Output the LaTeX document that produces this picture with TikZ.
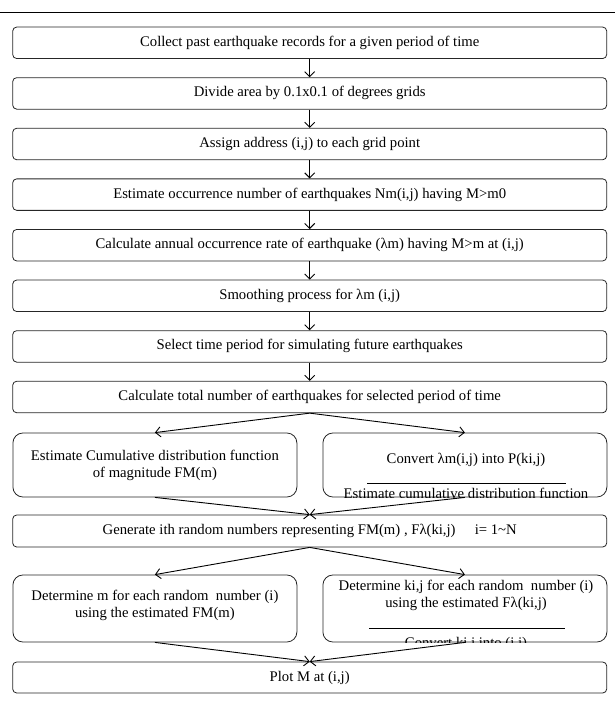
\documentclass[tikz,border=0pt]{standalone}
\usepackage{fontspec}
\setmainfont{Liberation Serif}
\usetikzlibrary{arrows.meta}
\tikzstyle{stepbox} = [draw=black!85, line width=0.8pt, rectangle, rounded corners=4pt, minimum width=594pt, minimum height=31.5pt, inner sep=0pt]
\tikzstyle{halfbox} = [draw=black!85, line width=0.8pt, rectangle, rounded corners=10pt, minimum width=284pt, inner sep=0pt]
\tikzstyle{boxtext} = [align=center, inner sep=0pt]
\tikzstyle{flowarrow} = [-{Straight Barb[length=5pt,width=10pt]}, line width=0.9pt]

\begin{document}
\begin{tikzpicture}[x=1pt, y=-1pt, font=\fontsize{14.7}{17}\selectfont]
\useasboundingbox (0,0) rectangle (615,726);
\draw[line width=0.9pt] (0,12) -- (615,12);

% steps down the middle
\node[stepbox] (collect) at (309.7,42.8) {Collect past earthquake records for a given period of time};
\node[stepbox] (divide) at (309.7,93.4) {Divide area by 0.1x0.1 of degrees grids};
\node[stepbox] (assign) at (309.7,144) {Assign address (i,j) to each grid point};
\node[stepbox] (count) at (309.7,194.6) {Estimate occurrence number of earthquakes Nm(i,j) having M>m0};
\node[stepbox] (rate) at (309.7,245.2) {Calculate annual occurrence rate of earthquake (λm) having M>m at (i,j)};
\node[stepbox] (smooth) at (309.7,295.8) {Smoothing process for λm (i,j)};
\node[stepbox] (period) at (309.7,346.4) {Select time period for simulating future earthquakes};
\node[stepbox] (total) at (309.7,397) {Calculate total number of earthquakes for selected period of time};

% first pair
\node[halfbox, minimum height=64pt] (cdf) at (154.9,465) {};
\node[boxtext] (cdftext) at (cdf.center) {Estimate Cumulative distribution function\\of magnitude FM(m)};
\node[halfbox, minimum height=64pt] (convert) at (464.9,465) {};
\begin{scope}
\clip[rounded corners=10pt] (convert.south west) rectangle (convert.north east);
\node[boxtext, anchor=base] (converttop) at (466,463) {Convert λm(i,j) into P(ki,j)};
\draw[line width=0.7pt] (367,483) -- (566,483);
\node[boxtext, anchor=base] (convertbot) at (466,498) {Estimate cumulative distribution function};
\end{scope}

\node[stepbox, minimum height=32pt] (generate) at (309.7,531) {Generate ith random numbers representing FM(m) , Fλ(ki,j)\hspace{1.3em}i= 1\textasciitilde N};

% second pair
\node[halfbox, minimum height=67pt] (detm) at (154.9,608.5) {};
\node[boxtext] (detmtext) at (154.9,605) {Determine m for each random\ \ number (i)\\using the estimated FM(m)};
\node[halfbox, minimum height=67pt] (detk) at (464.9,608.5) {};
\begin{scope}
\clip[rounded corners=10pt] (detk.south west) rectangle (detk.north east);
\node[boxtext, anchor=base] (detktop) at (466,590) {Determine ki,j for each random\ \ number (i)};
\node[boxtext, anchor=base] (detkmid) at (466,607) {using the estimated Fλ(ki,j)};
\draw[line width=0.7pt] (369,628) -- (565,628);
\node[boxtext, anchor=base] (detkbot) at (466,647) {Convert ki,j into (i,j)};
\end{scope}

\node[stepbox, minimum height=31pt] (plot) at (309.7,677.5) {Plot M at (i,j)};

% arrows
\draw[flowarrow] (collect) -- (divide);
\draw[flowarrow] (divide) -- (assign);
\draw[flowarrow] (assign) -- (count);
\draw[flowarrow] (count) -- (rate);
\draw[flowarrow] (rate) -- (smooth);
\draw[flowarrow] (smooth) -- (period);
\draw[flowarrow] (period) -- (total);
\draw[flowarrow] (total.south) -- (cdf.north);
\draw[flowarrow] (total.south) -- (convert.north);
\draw[flowarrow] (cdf.south) -- (generate.north);
\draw[flowarrow] (convert.south) -- (generate.north);
\draw[flowarrow] (generate.south) -- (detm.north);
\draw[flowarrow] (generate.south) -- (detk.north);
\draw[flowarrow] (detm.south) -- (plot.north);
\draw[flowarrow] (detk.south) -- (plot.north);
\end{tikzpicture}
\end{document}
